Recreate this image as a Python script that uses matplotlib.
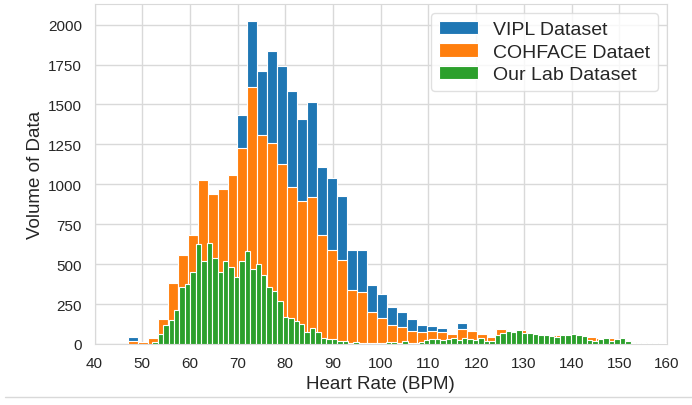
import numpy as np
import matplotlib
matplotlib.use("Agg")
import matplotlib.pyplot as plt
import seaborn as sns
from matplotlib.lines import Line2D

sns.set_style("whitegrid")
plt.rcParams['font.family'] = ['Liberation Sans', 'DejaVu Sans']

# ---- data ----
labels = ["VIPL Dataset", "COHFACE Dataet", "Our Lab Dataset"]

# VIPL / COHFACE share bins: start 47 BPM, width ~2.088 BPM
wide_start = 47.0
wide_width = 2.088
vipl = [44, 10, 37, 156, 383, 560, 685, 1025, 942, 971,
        1056, 1431, 2020, 1710, 1832, 1739, 1582, 1407, 1513, 1106,
        1038, 928, 589, 589, 372, 314, 230, 198, 156, 120,
        115, 98, 62, 129, 83, 65, 43, 96, 77, 90,
        60, 55, 58, 55, 50, 52, 45, 40, 35, 25,
        15, 10, 8, 5]
cohface = [20, 10, 37, 156, 383, 560, 685, 1025, 942, 971,
           1056, 1229, 1610, 1311, 1261, 1130, 980, 897, 922, 683,
           586, 526, 339, 327, 201, 162, 120, 104, 80, 77,
           81, 78, 62, 94, 83, 65, 43, 96, 77, 90,
           60, 55, 58, 55, 50, 52, 45, 40, 35, 25,
           15, 10, 8, 5]

# Our Lab dataset: start 52.12 BPM, width ~1.139 BPM
narrow_start = 52.12
narrow_width = 1.139
ourlab = [14, 60, 119, 150, 210, 358, 378, 450, 624, 520,
          630, 540, 451, 517, 484, 418, 517, 582, 469, 499,
          433, 358, 333, 272, 167, 161, 144, 125, 77, 98,
          77, 40, 29, 33, 19, 19, 6, 12, 6, 9,
          4, 4, 4, 10, 15, 5, 17, 9, 8, 15,
          25, 33, 30, 22, 30, 35, 25, 35, 29, 25,
          40, 19, 19, 56, 67, 81, 73, 85, 67, 67,
          60, 56, 56, 52, 46, 56, 58, 63, 56, 50,
          25, 19, 31, 35, 21, 31, 35, 21, 8, 4,
          4, 4, 4]

x_ticks = list(range(40, 161, 10))
y_ticks = list(range(0, 2001, 250))

# ---- figure ----
fig = plt.figure(figsize=(6.92, 4.06), dpi=100)
ax = fig.add_axes([94.5 / 692, 1 - 345 / 406, (667 - 94.5) / 692, (345 - 5) / 406])

colors = ["#1f77b4", "#ff7f0e", "#2ca02c"]
wide_left = wide_start + wide_width * np.arange(len(vipl))
narrow_left = narrow_start + narrow_width * np.arange(len(ourlab))

ax.bar(wide_left, vipl, width=wide_width, align='edge', color=colors[0],
       edgecolor='white', linewidth=0.8, label=labels[0], zorder=2)
ax.bar(wide_left, cohface, width=wide_width, align='edge', color=colors[1],
       edgecolor='white', linewidth=0.8, label=labels[1], zorder=3)
ax.bar(narrow_left, ourlab, width=narrow_width, align='edge', color=colors[2],
       edgecolor='white', linewidth=0.8, label=labels[2], zorder=4)

ax.set_xlim(40, 160)
ax.set_ylim(0, 2129)
ax.set_xticks(x_ticks)
ax.set_yticks(y_ticks)
ax.tick_params(axis='both', labelsize=11, colors='0.15', length=0, pad=9)
ax.set_xlabel("Heart Rate (BPM)", fontsize=13.5, color='0.15', labelpad=3)
ax.set_ylabel("Volume of Data", fontsize=13.5, color='0.15', labelpad=3)
ax.grid(True, color='0.85', linewidth=1.0)
ax.set_axisbelow(True)
for s in ax.spines.values():
    s.set_color('0.85')

leg = ax.legend(loc='upper right', fontsize=14, frameon=True,
                labelspacing=0.25, borderaxespad=0,
                bbox_to_anchor=(0.9843, 0.9735))
leg.get_frame().set_edgecolor('0.85')

fig.add_artist(Line2D([5 / 692, 1.0], [1 - 398 / 406, 1 - 398 / 406],
                      color='0.85', linewidth=1.0, transform=fig.transFigure))

fig.savefig("out.png", dpi=100)
